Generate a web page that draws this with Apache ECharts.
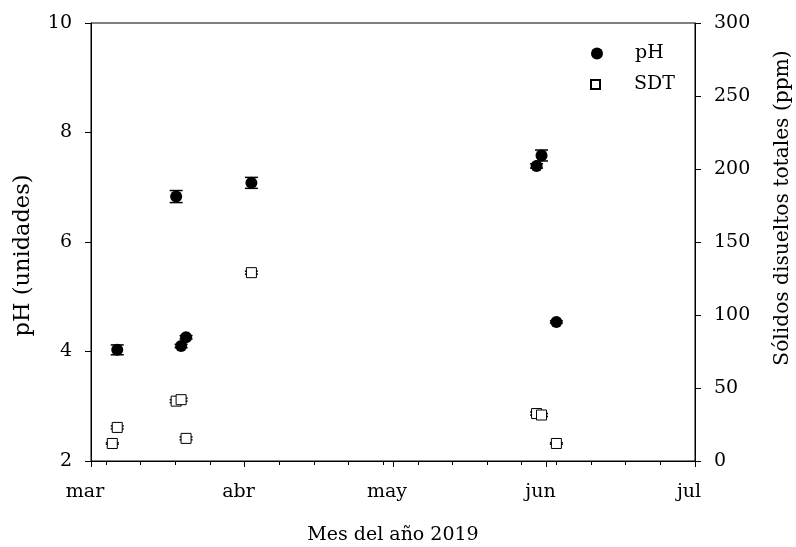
<!DOCTYPE html>
<html>
<head>
<meta charset="utf-8">
<script src="https://cdn.jsdelivr.net/npm/echarts@6/dist/echarts.min.js"></script>
<style>
  html, body { margin: 0; padding: 0; background: #fff; }
  #chart { width: 796px; height: 547px; }
</style>
</head>
<body>
<div id="chart"></div>
<script>
// days counted from 1 March 2019
const monthTicks = [0, 31, 61, 92, 122];
const monthLabels = ['mar', 'abr', 'may', 'jun', 'jul'];
const weekTicks = [3, 10, 17, 24, 38, 45, 52, 59, 66, 73, 80, 87, 94, 101, 108, 115];

const phDays = [5.3, 17.2, 18.2, 19.2, 32.4, 90.0, 91.0, 94.0];
const phValues = [4.03, 6.83, 4.10, 4.26, 7.08, 7.39, 7.58, 4.54];
const phErrors = [0.09, 0.11, 0.03, 0.03, 0.10, 0.04, 0.10, 0.02];

const sdtDays = [4.3, 5.3, 17.2, 18.2, 19.2, 32.4, 90.0, 91.0, 94.0];
const sdtValues = [12, 23, 41, 42, 15.5, 129, 32.5, 31.5, 12];
const sdtErrors = [0.5, 1, 1, 1, 1, 1, 1, 1, 0.5];

const font = '"DejaVu Serif", serif';
const chart = echarts.init(document.getElementById('chart'));

function errorBars(api) {
  const x = api.value(0);
  const y = api.value(1);
  const e = api.value(2);
  const top = api.coord([x, y + e]);
  const bot = api.coord([x, y - e]);
  const half = 6.5;
  const style = { stroke: '#000', lineWidth: 1.5 };
  return {
    type: 'group',
    children: [
      { type: 'line', shape: { x1: top[0], y1: top[1], x2: bot[0], y2: bot[1] }, style },
      { type: 'line', shape: { x1: top[0] - half, y1: top[1], x2: top[0] + half, y2: top[1] }, style },
      { type: 'line', shape: { x1: bot[0] - half, y1: bot[1], x2: bot[0] + half, y2: bot[1] }, style },
    ],
  };
}

const option = {
  animation: false,
  textStyle: { fontFamily: font, color: '#000' },
  grid: {
    left: 91, right: 101, top: 23, bottom: 86,
    outerBoundsMode: 'none',
    show: true, borderColor: '#000', borderWidth: 1, backgroundColor: 'transparent',
  },
  legend: [
    {
      data: ['pH'],
      left: 586, top: 39,
      itemWidth: 12, itemHeight: 12,
      textStyle: { fontFamily: font, fontSize: 19, color: '#000', padding: [0, 0, 0, 27] },
    },
    {
      data: ['SDT'],
      left: 585, top: 70,
      itemWidth: 9, itemHeight: 9,
      textStyle: { fontFamily: font, fontSize: 19, color: '#000', padding: [0, 0, 0, 29] },
    },
  ],
  xAxis: [
    {
      type: 'value',
      min: 0, max: 122,
      name: 'Mes del año 2019',
      nameLocation: 'middle',
      nameGap: 65,
      nameTextStyle: { fontFamily: font, fontSize: 19, color: '#000' },
      axisLine: { onZero: false, lineStyle: { color: '#000', width: 1 } },
      axisTick: { customValues: monthTicks, length: 6, lineStyle: { color: '#000' } },
      axisLabel: {
        customValues: monthTicks,
        formatter: (v) => monthLabels[monthTicks.indexOf(v)],
        margin: 22,
        fontFamily: font, fontSize: 19, color: '#000',
        padding: [0, 12, 0, 0],
      },
      splitLine: { show: false },
    },
    {
      type: 'value',
      min: 0, max: 122,
      position: 'bottom',
      axisLine: { show: false, onZero: false },
      axisTick: { customValues: weekTicks, length: 4, lineStyle: { color: '#000' } },
      axisLabel: { show: false },
      splitLine: { show: false },
    },
  ],
  yAxis: [
    {
      type: 'value',
      min: 2, max: 10, interval: 2,
      position: 'left',
      name: 'pH (unidades)',
      nameLocation: 'middle',
      nameRotate: 90,
      nameGap: 56,
      nameTextStyle: { fontFamily: font, fontSize: 22.5, color: '#000', padding: [0, 27, 0, 0] },
      axisLine: { show: true, onZero: false, lineStyle: { color: '#000', width: 1 } },
      axisTick: { show: true, length: 6, lineStyle: { color: '#000' } },
      axisLabel: { margin: 19, fontFamily: font, fontSize: 19, color: '#000' },
      splitLine: { show: false },
    },
    {
      type: 'value',
      min: 0, max: 300, interval: 50,
      position: 'right',
      name: 'Sólidos disueltos totales (ppm)',
      nameLocation: 'middle',
      nameRotate: 90,
      nameGap: 78,
      nameTextStyle: { fontFamily: font, fontSize: 20.2, color: '#000', padding: [0, 0, 0, 68] },
      axisLine: { show: true, onZero: false, lineStyle: { color: '#000', width: 1 } },
      axisTick: { show: true, length: 6, lineStyle: { color: '#000' } },
      axisLabel: { margin: 19, fontFamily: font, fontSize: 19, color: '#000' },
      splitLine: { show: false },
    },
  ],
  series: [
    {
      type: 'custom',
      xAxisIndex: 0, yAxisIndex: 1,
      renderItem: (params, api) => errorBars(api),
      data: sdtDays.map((d, i) => [d, sdtValues[i], sdtErrors[i]]),
      z: 1,
      silent: true,
    },
    {
      name: 'SDT',
      type: 'scatter',
      xAxisIndex: 0, yAxisIndex: 1,
      symbol: 'rect',
      symbolSize: 10,
      itemStyle: { color: '#fff', borderColor: '#000', borderWidth: 1, opacity: 1 },
      data: sdtDays.map((d, i) => [d, sdtValues[i]]),
      z: 2,
    },
    {
      type: 'custom',
      xAxisIndex: 0, yAxisIndex: 0,
      renderItem: (params, api) => errorBars(api),
      data: phDays.map((d, i) => [d, phValues[i], phErrors[i]]),
      z: 3,
      silent: true,
    },
    {
      name: 'pH',
      type: 'scatter',
      xAxisIndex: 0, yAxisIndex: 0,
      symbol: 'circle',
      symbolSize: 12,
      itemStyle: { color: '#000', borderColor: '#000', borderWidth: 0, opacity: 1 },
      data: phDays.map((d, i) => [d, phValues[i]]),
      z: 4,
    },
  ],
};

chart.setOption(option);
</script>
</body>
</html>
